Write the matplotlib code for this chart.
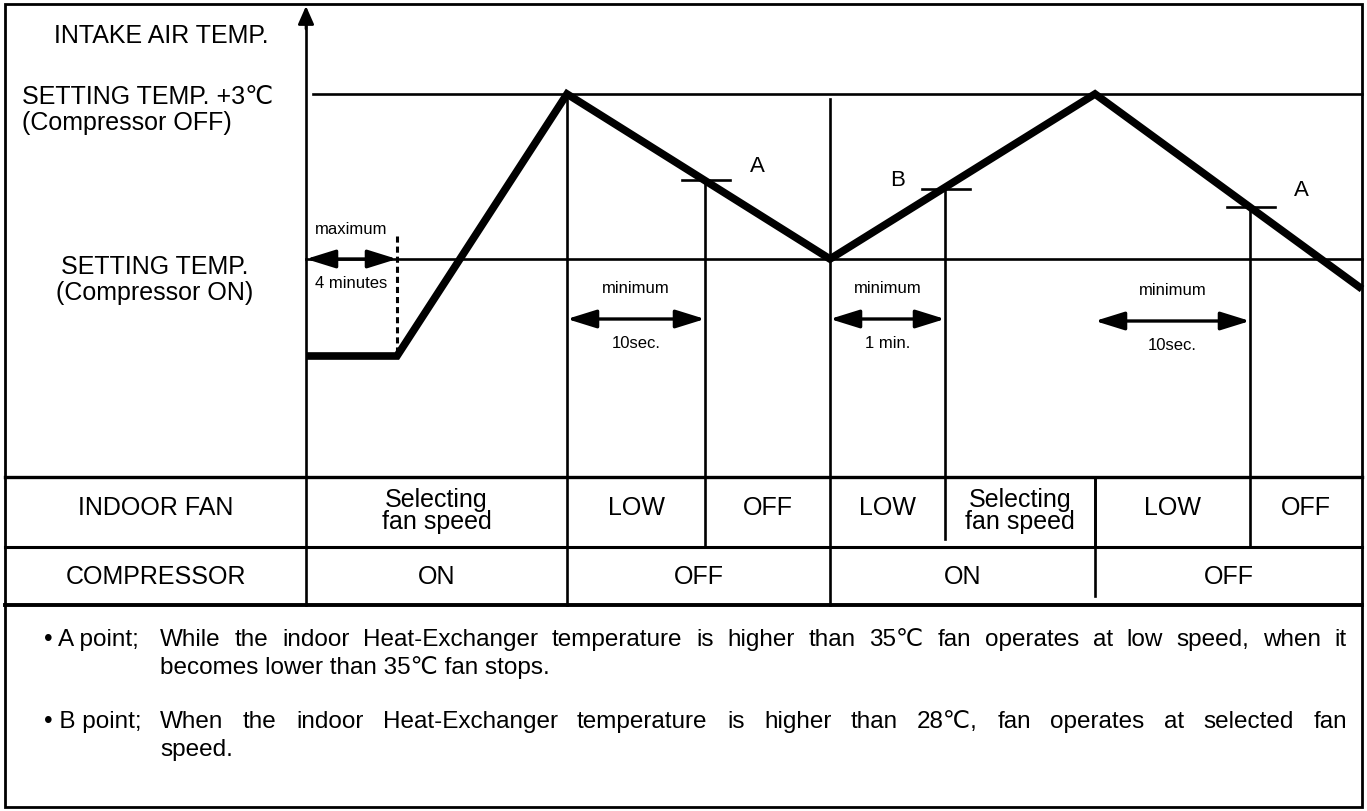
import matplotlib
matplotlib.use("Agg")
import matplotlib.pyplot as plt
from matplotlib.patches import Rectangle

FAM = ['Liberation Sans', 'DejaVu Sans']
plt.rcParams['font.family'] = FAM

# ---------------- data (diagram units: x = time position, y = level, screen-like) ----------
curve_x = [306, 397, 567, 830, 1095, 1362]
curve_y = [357, 357, 95, 260, 95, 290]

level_labels = ["SETTING TEMP. +3\u2103\n(Compressor OFF)", "SETTING TEMP.\n(Compressor ON)"]
level_y = [95, 260]

# switching points (A / B) : x, y, label
point_x = [705, 945, 1250]
point_y = [181, 190, 208]
point_labels = ["A", "B", "A"]
point_label_xy = [(757, 166), (898, 180), (1301, 190)]

# interval arrows: start, end, y, top label, bottom label
interval_start = [306, 567, 830, 1095]
interval_end = [397, 705, 945, 1250]
interval_y = [260, 320, 320, 322]
interval_top = ["maximum", "minimum", "minimum", "minimum"]
interval_bottom = ["4 minutes", "10sec.", "1 min.", "10sec."]

fan_bounds = [306, 567, 705, 830, 945, 1095, 1250, 1362]
fan_labels = ["Selecting\nfan speed", "LOW", "OFF", "LOW", "Selecting\nfan speed", "LOW", "OFF"]
comp_bounds = [306, 567, 830, 1095, 1362]
comp_labels = ["ON", "OFF", "ON", "OFF"]

notes = [
    ("\u2022 A point;", "While the indoor Heat-Exchanger temperature is higher than 35\u2103 fan operates at low speed, when it",
     "becomes lower than 35\u2103 fan stops."),
    ("\u2022 B point;", "When the indoor Heat-Exchanger temperature is higher than 28\u2103, fan operates at selected fan",
     "speed."),
]

# ---------------- figure ----------------
W, H = 1367, 812
fig = plt.figure(figsize=(W / 100, H / 100), dpi=100)
ax = fig.add_axes([0, 0, 1, 1])
ax.set_xlim(0, W)
ax.set_ylim(H, 0)
ax.axis('off')

L, R, T, B = 5, 1362, 5, 808
ROW1, ROW2, ROW3 = 478, 548, 606
AX = 306
thin = 1.9
FS = 18
SFS = 12

ax.add_patch(Rectangle((L, T), R - L, B - T, fill=False, lw=2.0, color='black'))

# y axis with arrow
ax.plot([AX, AX], [ROW3, 20], color='black', lw=thin)
ax.annotate('', xy=(AX, 7), xytext=(AX, 30),
            arrowprops=dict(arrowstyle='-|>,head_length=0.5,head_width=0.22', color='black',
                            lw=thin, mutation_scale=22, shrinkA=0, shrinkB=0))

# level lines
ax.plot([313, R], [level_y[0], level_y[0]], color='black', lw=thin)
ax.plot([AX, R], [level_y[1], level_y[1]], color='black', lw=thin)

# table lines
for yy, lw in [(ROW1, 2.4), (ROW2, 2.2), (ROW3, 2.8)]:
    ax.plot([L, R], [yy, yy], color='black', lw=lw)

# vertical lines in chart / rows
ax.plot([567, 567], [95, ROW3], color='black', lw=thin)
ax.plot([830, 830], [100, ROW3], color='black', lw=thin)
ax.plot([1095, 1095], [ROW1, 597], color='black', lw=thin)
for px, py in zip(point_x, point_y):
    bottom = 540 if px == 945 else ROW2
    ax.plot([px, px], [py, bottom], color='black', lw=thin)
    ax.plot([px - 23, px + 25], [py, py], color='black', lw=thin)
for lab, (tx, ty) in zip(point_labels, point_label_xy):
    ax.text(tx, ty, lab, fontsize=16, ha='center', va='center')

# dashed line at end of first interval
ax.plot([397, 397], [237, 357], color='black', lw=2.2, ls=(0, (2, 1.3)))

# temperature curve
ax.plot(curve_x, curve_y, color='black', lw=5.5, solid_joinstyle='miter', solid_capstyle='butt')

# interval arrows
for xs, xe, yy, tt, bt in zip(interval_start, interval_end, interval_y, interval_top, interval_bottom):
    ax.annotate('', xy=(xs, yy), xytext=(xe, yy),
                arrowprops=dict(arrowstyle='<|-|>,head_length=0.9,head_width=0.28', color='black',
                                lw=2.4, mutation_scale=20, shrinkA=0, shrinkB=0))
    cx = (xs + xe) / 2
    ax.text(cx, yy - 31, tt, fontsize=SFS, ha='center', va='center')
    ax.text(cx, yy + 24, bt, fontsize=SFS, ha='center', va='center')

# left labels
ax.text(161, 36, "INTAKE AIR TEMP.", fontsize=FS, ha='center', va='center')
ax.text(22, 110, level_labels[0], fontsize=FS, ha='left', va='center', linespacing=1.15)
ax.text(155, 280, level_labels[1], fontsize=FS, ha='center', va='center', linespacing=1.15)
ax.text(156, 508, "INDOOR FAN", fontsize=FS, ha='center', va='center')
ax.text(156, 577, "COMPRESSOR", fontsize=FS, ha='center', va='center')

# fan row
for i, lab in enumerate(fan_labels):
    x0, x1 = fan_bounds[i], fan_bounds[i + 1]
    ax.text((x0 + x1) / 2, 511 if '\n' in lab else 508, lab, fontsize=FS, ha='center', va='center',
            linespacing=0.85)
for xb in fan_bounds[1:-1]:
    if xb in (567, 830) or xb in point_x:
        continue
    ax.plot([xb, xb], [ROW1, ROW2], color='black', lw=thin)

# compressor row
for i, lab in enumerate(comp_labels):
    x0, x1 = comp_bounds[i], comp_bounds[i + 1]
    ax.text((x0 + x1) / 2, 577, lab, fontsize=FS, ha='center', va='center')

# notes, justified
fig.canvas.draw()
renderer = fig.canvas.get_renderer()
inv = ax.transData.inverted()


def text_width(s, fs):
    t = ax.text(0, 0, s, fontsize=fs)
    bb = t.get_window_extent(renderer=renderer)
    t.remove()
    x0 = inv.transform((bb.x0, 0))[0]
    x1 = inv.transform((bb.x1, 0))[0]
    return x1 - x0


NFS = 17.5
body_x0, body_x1 = 160, 1347
for k, (prefix, line1, line2) in enumerate(notes):
    y1 = 640 + k * 82
    y2 = y1 + 28
    ax.text(44, y1, prefix, fontsize=NFS, ha='left', va='center')
    words = line1.split(' ')
    widths = [text_width(w, NFS) for w in words]
    gap = (body_x1 - body_x0 - sum(widths)) / (len(words) - 1)
    x = body_x0
    for w, wd in zip(words, widths):
        ax.text(x, y1, w, fontsize=NFS, ha='left', va='center')
        x += wd + gap
    ax.text(body_x0, y2, line2, fontsize=NFS, ha='left', va='center')

fig.savefig("out.png", dpi=100)
